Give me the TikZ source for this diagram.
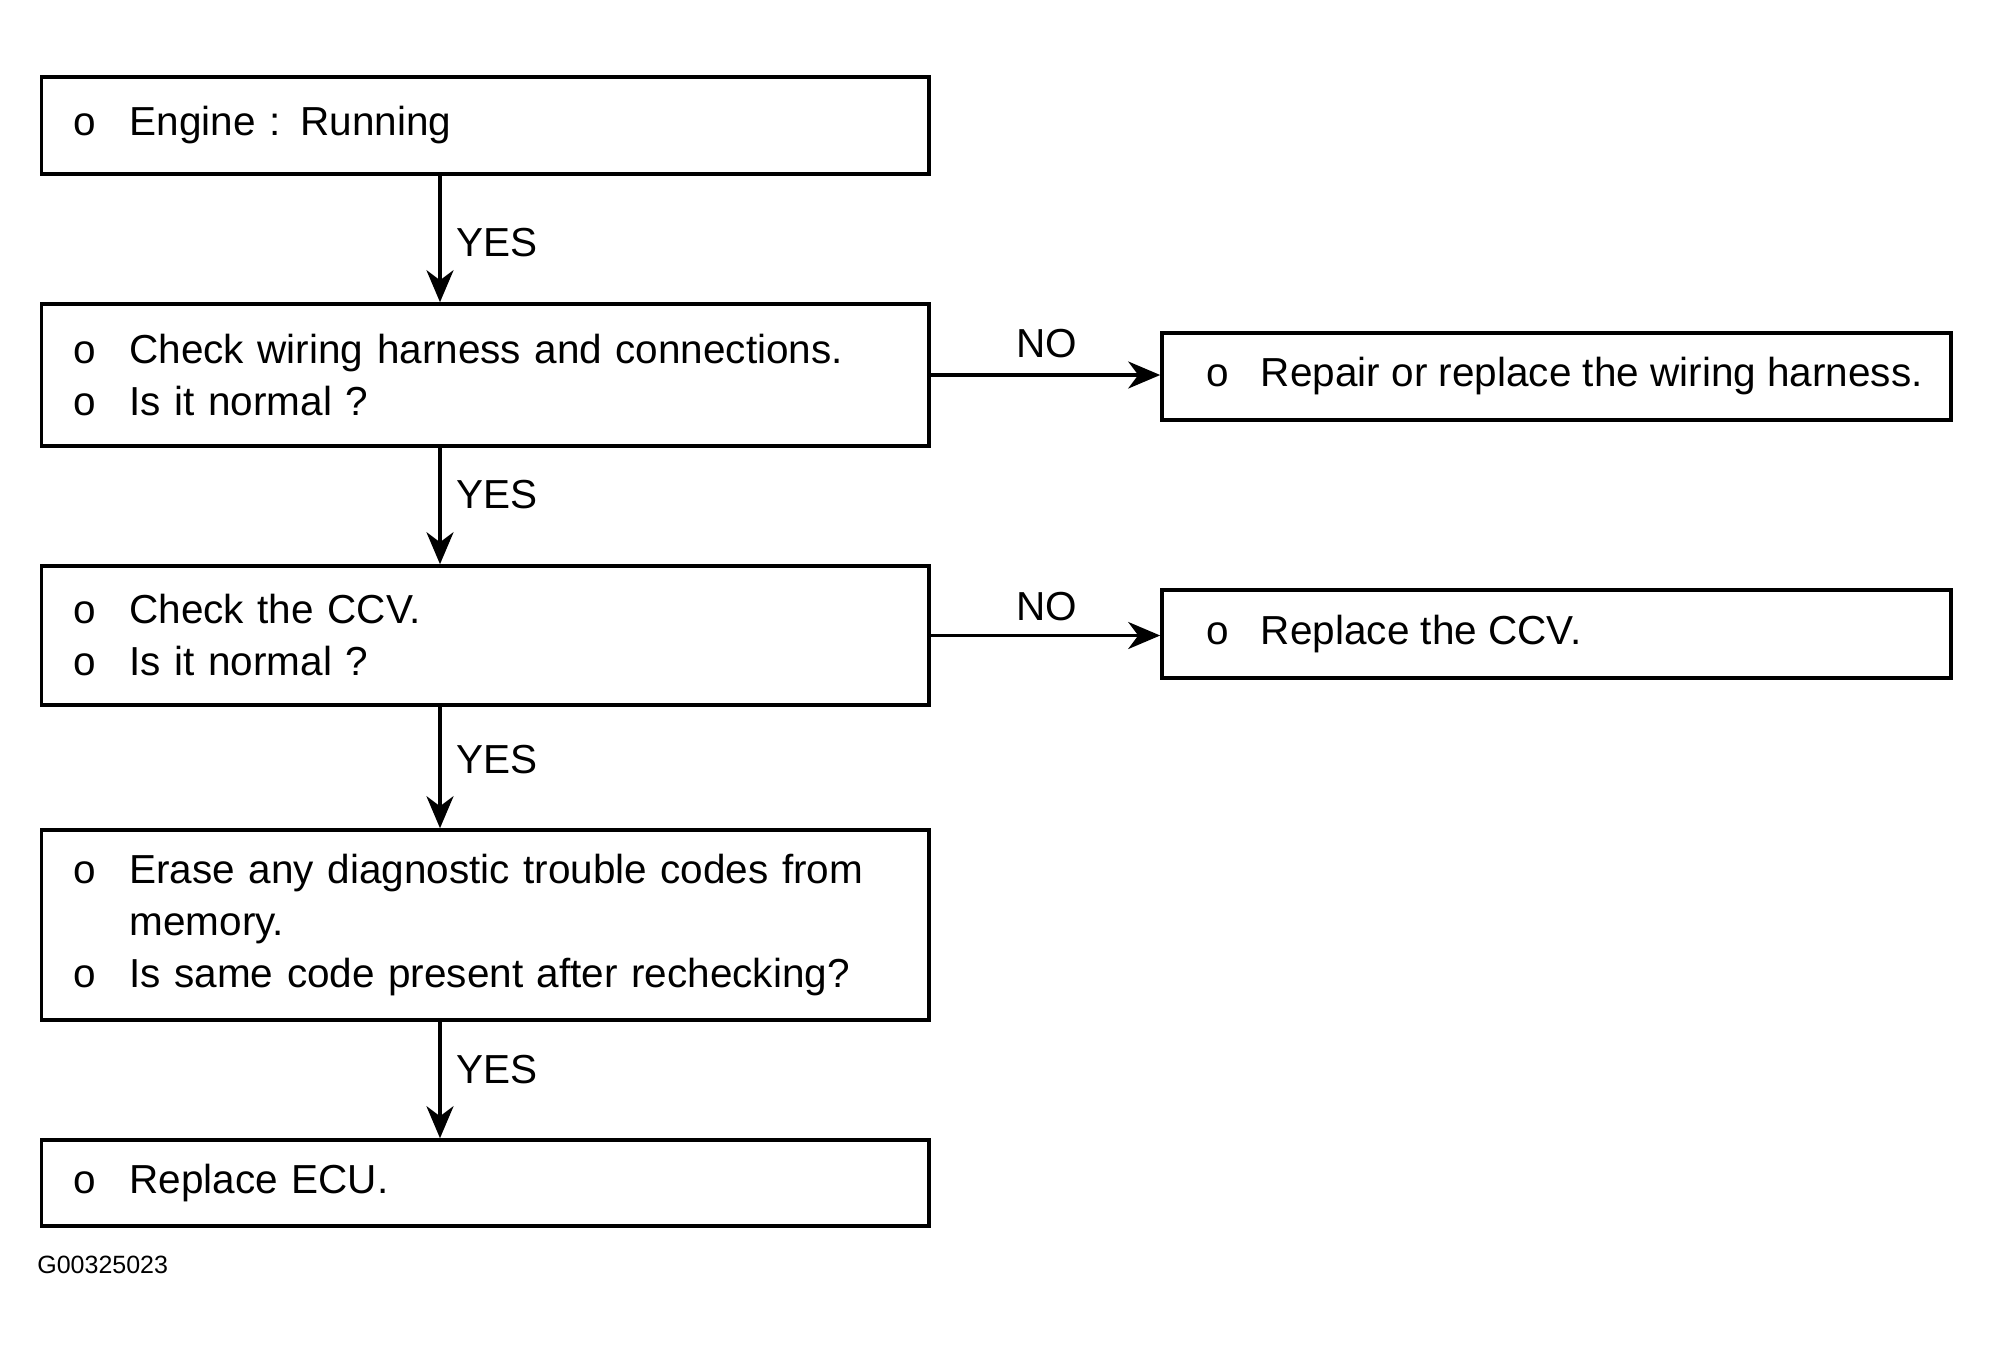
\documentclass[tikz,border=0pt]{standalone}
\usepackage{fontspec}
\setmainfont{Liberation Sans}
\usetikzlibrary{arrows.meta}
\newcommand{\bul}{\makebox[28pt][l]{o}}
\newcommand{\rline}[1]{\makebox[372.5pt][l]{\hspace*{11pt}\makebox[27.5pt][l]{o}#1}}
\newcommand{\hang}{\hspace*{28pt}}
\begin{document}
\begin{tikzpicture}[x=0.5pt,y=-0.5pt,
  txt/.style={font=\fontsize{20.25pt}{26pt}\selectfont},
  lbox/.style={draw,line width=1.8pt,rectangle,txt,align=left,
    inner xsep=16pt,inner ysep=0pt,text width=411.75pt,minimum width=443.75pt,anchor=center},
  rbox/.style={draw,line width=1.8pt,rectangle,txt,
    inner xsep=11pt,inner ysep=0pt,minimum width=394.5pt,anchor=center},
  lab/.style={txt,inner sep=0pt,anchor=base west},
  arr/.style={line width=1.8pt,-{Stealth[length=16pt,width=13.5pt,inset=5pt]}}]
\useasboundingbox (0,0) rectangle (1991,1350);
\node[lbox,minimum height=48.5pt] (b1) at (485.25,125.5) {\bul Engine : Running};
\node[lbox,minimum height=71pt] (b2) at (485.25,375) {\bul Check wiring harness and connections.\\\bul Is it normal ?};
\node[lbox,minimum height=69.5pt] (b3) at (485.25,635.5) {\bul Check the CCV.\\\bul Is it normal ?};
\node[lbox,minimum height=95pt] (b4) at (485.25,925) {\bul Erase any diagnostic trouble codes from\\\hang memory.\\\bul Is same code present after rechecking?};
\node[lbox,minimum height=43pt] (b5) at (485.25,1183) {\bul Replace ECU.};
\node[rbox,minimum height=43.5pt] (r1) at (1556.5,376.5) {\rline{Repair or replace the wiring harness.}};
\node[rbox,minimum height=44pt] (r2) at (1556.5,634) {\rline{Replace the CCV.}};
\coordinate (ax) at (440,0);
\draw[arr] (b1.south -| ax) -- (b2.north -| ax);
\draw[arr] (b2.south -| ax) -- (b3.north -| ax);
\draw[arr] (b3.south -| ax) -- (b4.north -| ax);
\draw[arr] (b4.south -| ax) -- (b5.north -| ax);
\draw[arr] (b2.east) -- (b2.east -| r1.west);
\draw[arr] (b3.east) -- (b3.east -| r2.west);
\node[lab] (y1) at (456,256.5) {YES};
\node[lab] (y2) at (456,508) {YES};
\node[lab] (y3) at (456,773) {YES};
\node[lab] (y4) at (456,1083) {YES};
\node[lab] (n1) at (1016,357) {NO};
\node[lab] (n2) at (1016,620) {NO};
\node[inner sep=0pt,anchor=base west,font=\fontsize{12.5pt}{14pt}\selectfont] (fig) at (37,1273) {G00325023};
\end{tikzpicture}
\end{document}
